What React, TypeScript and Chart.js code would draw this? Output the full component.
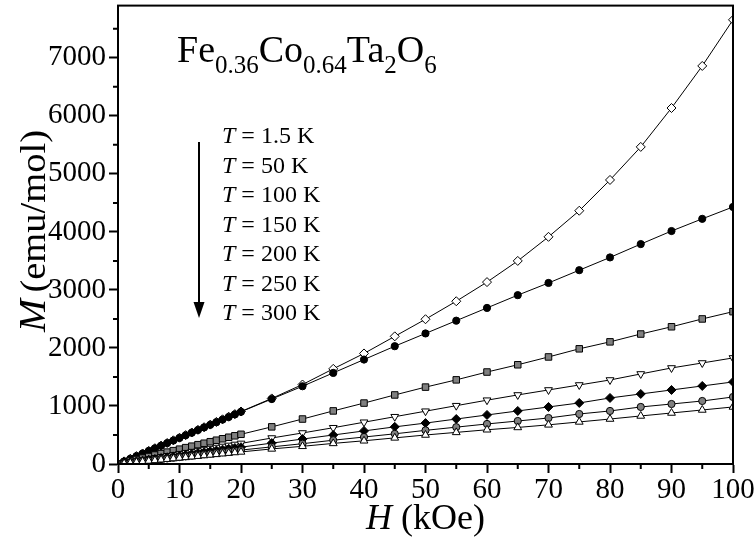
import React, { useEffect, useRef } from 'react';
import { Chart, registerables } from 'chart.js';

Chart.register(...registerables);

// ---------------- data ----------------
const fieldH = [
  0, 1, 2, 3, 4, 5, 6, 7, 8, 9, 10, 11, 12, 13, 14, 15, 16, 17, 18, 19, 20,
  25, 30, 35, 40, 45, 50, 55, 60, 65, 70, 75, 80, 85, 90, 95, 100,
];

const m1p5K = [
  0, 45, 91, 136, 181, 226, 272, 317, 362, 408, 453, 498, 543, 589, 634, 679, 725, 770, 815, 860, 905,
  1130, 1370, 1640, 1905, 2200, 2495, 2805, 3135, 3500, 3915, 4365, 4895, 5465, 6135, 6860, 7655,
];
const m50K = [
  0, 45, 90, 135, 180, 225, 270, 315, 360, 405, 450, 495, 540, 585, 630, 675, 720, 765, 810, 855, 900,
  1120, 1340, 1570, 1800, 2030, 2250, 2470, 2690, 2910, 3120, 3340, 3560, 3790, 4015, 4225, 4430,
];
const m100K = [
  0, 26, 51, 77, 102, 128, 154, 179, 205, 230, 256, 282, 307, 333, 358, 384, 410, 435, 461, 486, 512,
  640, 775, 915, 1050, 1190, 1325, 1450, 1585, 1710, 1845, 1985, 2105, 2240, 2365, 2500, 2625,
];
const m150K = [
  0, 18, 36, 53, 71, 89, 107, 124, 142, 160, 178, 195, 213, 231, 249, 266, 284, 302, 320, 337, 355,
  448, 535, 625, 720, 815, 910, 1005, 1100, 1190, 1276, 1362, 1448, 1552, 1655, 1741, 1828,
];
const m200K = [
  0, 15, 29, 44, 58, 73, 87, 102, 116, 131, 145, 160, 174, 189, 203, 218, 232, 247, 261, 276, 290,
  360, 430, 500, 570, 640, 705, 775, 845, 914, 983, 1052, 1138, 1207, 1276, 1345, 1414,
];
const m250K = [
  0, 12, 24, 36, 48, 60, 72, 84, 96, 108, 120, 132, 144, 156, 168, 180, 192, 204, 216, 228, 240,
  295, 350, 410, 465, 520, 580, 635, 690, 741, 793, 862, 914, 983, 1034, 1086, 1155,
];
const m300K = [
  0, 10, 21, 31, 42, 52, 62, 73, 83, 94, 104, 114, 125, 135, 146, 156, 166, 177, 187, 198, 208,
  260, 305, 355, 400, 450, 500, 545, 590, 630, 675, 725, 775, 828, 879, 931, 983,
];

const tempLabels = ['1.5 K', '50 K', '100 K', '150 K', '200 K', '250 K', '300 K'];

const xMajorTicks = [0, 10, 20, 30, 40, 50, 60, 70, 80, 90, 100];
const xMinorTicks = [5, 15, 25, 35, 45, 55, 65, 75, 85, 95];
const yMajorTicks = [0, 1000, 2000, 3000, 4000, 5000, 6000, 7000];
const yMinorTicks = [500, 1500, 2500, 3500, 4500, 5500, 6500, 7500];

const SERIF = '"Liberation Serif", "Times New Roman", serif';

type Part = { text: string; size: number; italic?: boolean; dy?: number; gapAfter?: number };

function drawParts(ctx: CanvasRenderingContext2D, parts: Part[], x: number, y: number) {
  let cx = x;
  for (const p of parts) {
    ctx.font = `${p.italic ? 'italic ' : ''}${p.size}px ${SERIF}`;
    ctx.fillText(p.text, cx, y + (p.dy || 0));
    cx += ctx.measureText(p.text).width + (p.gapAfter || 0);
  }
}
function partsWidth(ctx: CanvasRenderingContext2D, parts: Part[]) {
  let w = 0;
  for (const p of parts) {
    ctx.font = `${p.italic ? 'italic ' : ''}${p.size}px ${SERIF}`;
    w += ctx.measureText(p.text).width + (p.gapAfter || 0);
  }
  return w;
}

const decorPlugin = {
  id: 'decor',
  afterDraw(chart: any) {
    const ctx: CanvasRenderingContext2D = chart.ctx;
    const { left, right, top, bottom } = chart.chartArea;
    const xs = chart.scales.x;
    const ys = chart.scales.y;
    ctx.save();
    ctx.strokeStyle = '#000';
    ctx.fillStyle = '#000';
    // frame
    ctx.lineWidth = 2;
    ctx.strokeRect(left, top, right - left, bottom - top);
    // minor ticks
    ctx.beginPath();
    for (const v of xMinorTicks) {
      const px = xs.getPixelForValue(v);
      ctx.moveTo(px, bottom);
      ctx.lineTo(px, bottom + 5);
    }
    for (const v of yMinorTicks) {
      const py = ys.getPixelForValue(v);
      ctx.moveTo(left, py);
      ctx.lineTo(left - 5, py);
    }
    ctx.stroke();

    ctx.textAlign = 'left';
    ctx.textBaseline = 'alphabetic';

    // formula
    drawParts(
      ctx,
      [
        { text: 'Fe', size: 38 },
        { text: '0.36', size: 25, dy: 11 },
        { text: 'Co', size: 38 },
        { text: '0.64', size: 25, dy: 11 },
        { text: 'Ta', size: 38 },
        { text: '2', size: 25, dy: 11 },
        { text: 'O', size: 38 },
        { text: '6', size: 25, dy: 11 },
      ],
      177,
      62
    );

    // temperature list
    tempLabels.forEach((t, i) => {
      drawParts(
        ctx,
        [
          { text: 'T', size: 24, italic: true },
          { text: ' = ' + t, size: 24 },
        ],
        222,
        143 + i * 29.5
      );
    });

    // arrow
    ctx.lineWidth = 2;
    ctx.beginPath();
    ctx.moveTo(199, 142);
    ctx.lineTo(199, 305);
    ctx.stroke();
    ctx.beginPath();
    ctx.moveTo(193.5, 302);
    ctx.lineTo(204.5, 302);
    ctx.lineTo(199, 318);
    ctx.closePath();
    ctx.fill();

    // x title
    const xParts: Part[] = [
      { text: 'H', size: 36, italic: true },
      { text: ' (kOe)', size: 36 },
    ];
    const xw = partsWidth(ctx, xParts);
    drawParts(ctx, xParts, (left + right) / 2 - xw / 2, 529);

    // y title
    const yParts: Part[] = [
      { text: 'M', size: 37, italic: true, gapAfter: 6 },
      { text: '(emu/mol)', size: 36 },
    ];
    const yw = partsWidth(ctx, yParts);
    ctx.translate(45, 231);
    ctx.rotate(-Math.PI / 2);
    ctx.scale(1.07, 1);
    drawParts(ctx, yParts, -yw / 2, 0);
    ctx.restore();
  },
};

function ds(values: number[], style: string, fill: string, radius: number, rotation = 0) {
  return {
    data: fieldH.map((h, i) => ({ x: h, y: values[i] })),
    borderColor: '#000',
    borderWidth: 1,
    pointStyle: style,
    pointRadius: radius,
    pointRotation: rotation,
    pointBackgroundColor: fill,
    pointBorderColor: '#000',
    pointBorderWidth: 1,
    tension: 0,
    fill: false,
  };
}

export default function App() {
  const ref = useRef<HTMLCanvasElement | null>(null);
  useEffect(() => {
    if (!ref.current) return;
    const tickFont = { family: SERIF, size: 29 };
    const chart = new Chart(ref.current, {
      type: 'line',
      data: {
        datasets: [
          ds(m300K, 'triangle', '#ffffff', 4.5),
          ds(m250K, 'circle', '#808080', 3.6),
          ds(m200K, 'rectRot', '#000000', 4.5),
          ds(m150K, 'triangle', '#ffffff', 4.5, 180),
          ds(m100K, 'rect', '#808080', 4.6),
          ds(m50K, 'circle', '#000000', 3.6),
          ds(m1p5K, 'rectRot', '#ffffff', 4.5),
        ] as any,
      },
      options: {
        animation: false,
        responsive: false,
        devicePixelRatio: 1,
        layout: { padding: { top: 5, right: 22, left: 0, bottom: 0 } },
        plugins: { legend: { display: false }, tooltip: { enabled: false } },
        scales: {
          x: {
            type: 'linear',
            min: 0,
            max: 100,
            afterBuildTicks: (s: any) => {
              s.ticks = xMajorTicks.map((v) => ({ value: v }));
            },
            afterFit: (s: any) => {
              s.height = 81;
              s.paddingLeft = 0;
              s.paddingRight = 0;
            },
            grid: { display: true, drawOnChartArea: false, drawTicks: true, tickLength: 9, tickColor: '#000', tickWidth: 2 },
            border: { display: true, color: '#000', width: 2 },
            ticks: {
              font: tickFont,
              color: '#000',
              padding: 0,
              maxRotation: 0,
              autoSkip: false,
              callback: (v: any) => String(v),
            },
          },
          y: {
            type: 'linear',
            min: 0,
            max: 7900,
            afterBuildTicks: (s: any) => {
              s.ticks = yMajorTicks.map((v) => ({ value: v }));
            },
            afterFit: (s: any) => {
              s.width = 118;
              s.paddingTop = 0;
              s.paddingBottom = 0;
            },
            grid: { display: true, drawOnChartArea: false, drawTicks: true, tickLength: 9, tickColor: '#000', tickWidth: 2 },
            border: { display: true, color: '#000', width: 2 },
            ticks: {
              font: tickFont,
              color: '#000',
              padding: 3,
              autoSkip: false,
              callback: (v: any) => String(v),
            },
          },
        },
      } as any,
      plugins: [decorPlugin],
    });
    return () => chart.destroy();
  }, []);
  return (
    <div style={{ position: 'absolute', left: 0, top: 0, width: 755, height: 545, background: '#fff' }}>
      <canvas ref={ref} width={755} height={545} />
    </div>
  );
}
